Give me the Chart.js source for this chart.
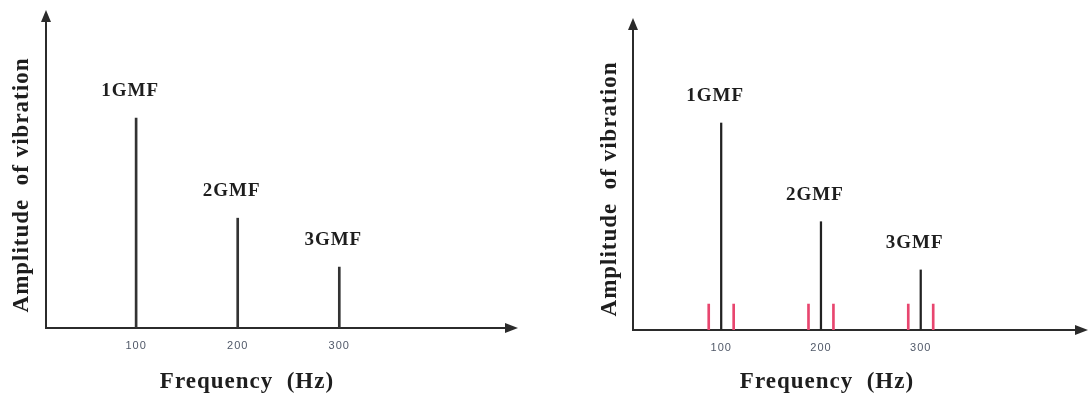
<!DOCTYPE html>
<html>
<head>
<meta charset="utf-8">
<script src="https://cdn.jsdelivr.net/npm/chart.js@4.4.1/dist/chart.umd.min.js"></script>
<style>
  html, body { margin: 0; padding: 0; background: #fff; }
  #wrap { position: relative; width: 1089px; height: 396px; }
  .box { position: absolute; top: 0; height: 396px; }
</style>
</head>
<body>
<div id="wrap">
  <div class="box" style="left:0;width:545px"><canvas id="leftChart"></canvas></div>
  <div class="box" style="left:560px;width:529px"><canvas id="rightChart"></canvas></div>
</div>
<script>
// data (amplitude relative to top of plot area)
const gmfFreq = [100, 200, 300];
const gmfAmp = [0.734, 0.384, 0.213];
const gmfLabels = ['1GMF', '2GMF', '3GMF'];
const sidebandFreq = [87.5, 112.5, 187.5, 212.5, 287.5, 312.5];
const sidebandAmp = [0.092, 0.092, 0.092, 0.092, 0.092, 0.092];
const tickValues = [100, 200, 300];
const xTitle = 'Frequency  (Hz)';
const yTitle = 'Amplitude  of vibration';

const axisColor = '#2b2b2b';

// arrow heads on the axes, axes running on past the plot area
const arrowPlugin = {
  id: 'arrows',
  afterDraw(chart, args, opts) {
    const { ctx, chartArea: a } = chart;
    const tipX = a.right + opts.xExt;
    const tipY = a.top - opts.yExt;
    ctx.save();
    ctx.strokeStyle = axisColor;
    ctx.fillStyle = axisColor;
    ctx.lineWidth = 2;
    ctx.beginPath();
    ctx.moveTo(a.right, a.bottom);
    ctx.lineTo(tipX - 8, a.bottom);
    ctx.moveTo(a.left, a.top + 1);
    ctx.lineTo(a.left, tipY + 8);
    ctx.stroke();
    ctx.beginPath();
    ctx.moveTo(tipX, a.bottom);
    ctx.lineTo(tipX - 13, a.bottom - 5);
    ctx.lineTo(tipX - 13, a.bottom + 5);
    ctx.closePath();
    ctx.fill();
    ctx.beginPath();
    ctx.moveTo(a.left, tipY);
    ctx.lineTo(a.left - 5, tipY + 12);
    ctx.lineTo(a.left + 5, tipY + 12);
    ctx.closePath();
    ctx.fill();
    ctx.restore();
  }
};

// 1GMF / 2GMF / 3GMF over the peaks
const peakLabels = {
  id: 'peakLabels',
  afterDatasetsDraw(chart) {
    const meta = chart.getDatasetMeta(0);
    const ctx = chart.ctx;
    ctx.save();
    ctx.font = 'bold 19px "Liberation Serif"';
    ctx.fillStyle = '#1e1e1e';
    ctx.textAlign = 'center';
    ctx.textBaseline = 'middle';
    meta.data.forEach((bar, i) => ctx.fillText(gmfLabels[i], bar.x - 6, bar.y - 27));
    ctx.restore();
  }
};

const spacing = {
  id: 'spacing',
  beforeDraw(chart) { chart.ctx.letterSpacing = '1px'; }
};

function buildChart(id, datasets, xRange, lay) {
  return new Chart(document.getElementById(id), {
    type: 'bar',
    data: { datasets },
    options: {
      responsive: true,
      maintainAspectRatio: false,
      animation: false,
      layout: { padding: lay.padding },
      plugins: {
        legend: { display: false },
        tooltip: { enabled: false },
        arrows: { xExt: lay.xExt, yExt: lay.yExt }
      },
      scales: {
        x: {
          type: 'linear',
          min: xRange[0],
          max: xRange[1],
          offset: false,
          grid: { display: false },
          border: { display: true, color: axisColor, width: 2 },
          afterBuildTicks: s => { s.ticks = tickValues.map(v => ({ value: v })); },
          afterFit: s => { s.height = lay.xHeight; },
          ticks: {
            padding: 3, color: '#505868', autoSkip: false, maxRotation: 0,
            font: { family: 'Liberation Sans', size: 11 }
          },
          title: {
            display: true, text: xTitle, color: '#1e1e1e', padding: 0,
            font: { family: 'Liberation Serif', size: 23, weight: 'bold' }
          }
        },
        y: {
          min: 0,
          max: 1,
          grid: { display: false },
          border: { display: true, color: axisColor, width: 2 },
          ticks: { display: false },
          afterFit: s => { s.width = lay.yWidth; },
          title: {
            display: true, text: yTitle, color: '#1e1e1e', padding: { top: lay.yTitlePad },
            font: { family: 'Liberation Serif', size: 23, weight: 'bold' }
          }
        }
      }
    },
    plugins: [spacing, arrowPlugin, peakLabels]
  });
}

const gmfPoints = gmfFreq.map((f, i) => ({ x: f, y: gmfAmp[i] }));
const sidebandPoints = sidebandFreq.map((f, i) => ({ x: f, y: sidebandAmp[i] }));

buildChart('leftChart', [
  { data: gmfPoints, backgroundColor: '#333', barThickness: 2, grouped: false }
], [11.3, 407], { padding: { top: 42, right: 97, bottom: 0, left: 0 }, xHeight: 68, yWidth: 46, yTitlePad: 8, xExt: 70, yExt: 32 });

buildChart('rightChart', [
  { data: gmfPoints, backgroundColor: '#222', barThickness: 1.6, grouped: false },
  { data: sidebandPoints, backgroundColor: '#e8466f', barThickness: 2, grouped: false }
], [11.6, 400.5], { padding: { top: 48, right: 68, bottom: 0, left: 0 }, xHeight: 66, yWidth: 73, yTitlePad: 36, xExt: 67, yExt: 30 });
</script>
</body>
</html>
